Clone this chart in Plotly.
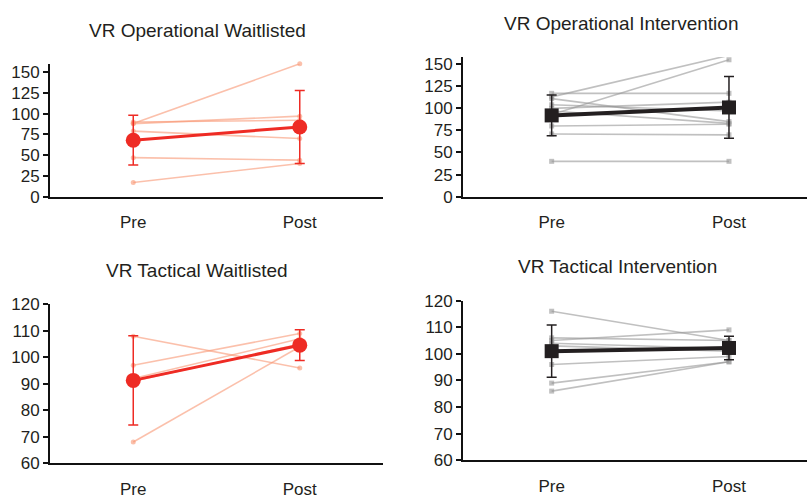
import plotly.graph_objects as go

# ---------- data ----------
categories = ["Pre", "Post"]

# VR Operational Waitlisted
op_wait_pre = [88, 88, 90, 79, 47, 17]
op_wait_post = [160, 97, 92, 70, 44, 40]
op_wait_mean = [68, 84]
op_wait_sd = [30, 44]

# VR Operational Intervention
op_int_pre = [113, 93, 117, 111, 104, 100, 97, 80, 71, 40]
op_int_post = [160, 155, 117, 85, 97, 107, 83, 82, 70, 40]
op_int_mean = [92, 101]
op_int_sd = [23, 35]

# VR Tactical Waitlisted
tac_wait_pre = [108, 97, 92, 91, 68]
tac_wait_post = [96, 109, 107, 105, 104]
tac_wait_mean = [91.3, 104.6]
tac_wait_sd = [16.9, 5.8]

# VR Tactical Intervention
tac_int_pre = [116, 106, 105, 104, 103, 96, 89, 86]
tac_int_post = [105, 105, 109, 102, 101, 99, 97, 97]
tac_int_mean = [101, 102.2]
tac_int_sd = [9.8, 4.4]

titles = ["VR Operational Waitlisted", "VR Operational Intervention",
          "VR Tactical Waitlisted", "VR Tactical Intervention"]

# ---------- style ----------
RED = "#EE2B24"
SALMON = "rgba(248,150,115,0.6)"
BLACK = "#231F20"
GRAY = "rgba(150,150,150,0.6)"
FONT = "Liberation Sans, Arial, Helvetica, sans-serif"

W, H = 807, 504

panels = [
    dict(pre=op_wait_pre, post=op_wait_post, mean=op_wait_mean, sd=op_wait_sd,
         ind=SALMON, main=RED, sym="circle", yr=[0, 160], dtick=25,
         xdom=[50, 383], ydom=[57, 195], xr=[-0.5, 1.5]),
    dict(pre=op_int_pre, post=op_int_post, mean=op_int_mean, sd=op_int_sd,
         ind=GRAY, main=BLACK, sym="square", yr=[0, 158], dtick=25,
         xdom=[463, 807], ydom=[50, 195], xr=[-0.5, 1.44]),
    dict(pre=tac_wait_pre, post=tac_wait_post, mean=tac_wait_mean, sd=tac_wait_sd,
         ind=SALMON, main=RED, sym="circle", yr=[60, 120], dtick=10,
         xdom=[50, 383], ydom=[307, 472], xr=[-0.5, 1.5]),
    dict(pre=tac_int_pre, post=tac_int_post, mean=tac_int_mean, sd=tac_int_sd,
         ind=GRAY, main=BLACK, sym="square", yr=[60, 120], dtick=10,
         xdom=[463, 807], ydom=[303, 469], xr=[-0.5, 1.44]),
]
title_pos = [(197, 22), (621, 15), (197, 272), (617, 268)]


def px_x(v):
    return min(max(v / W, 0), 1)


def px_y(v):
    return min(max(1 - v / H, 0), 1)


fig = go.Figure()
layout = {}
annotations = []
for i, p in enumerate(panels):
    n = i + 1
    xa = "x" if n == 1 else f"x{n}"
    ya = "y" if n == 1 else f"y{n}"
    xpos = [0, 1]
    for a, b in zip(p["pre"], p["post"]):
        fig.add_trace(go.Scatter(
            x=xpos, y=[a, b], mode="lines+markers", xaxis=xa, yaxis=ya,
            line=dict(color=p["ind"], width=1.6),
            marker=dict(color=p["ind"], size=5, symbol=p["sym"]),
            showlegend=False, hoverinfo="skip", cliponaxis=False))
    fig.add_trace(go.Scatter(
        x=xpos, y=p["mean"], mode="lines+markers", xaxis=xa, yaxis=ya,
        line=dict(color=p["main"], width=3 if p["sym"] == "circle" else 4),
        marker=dict(color=p["main"], size=15 if p["sym"] == "circle" else 14,
                    symbol=p["sym"]),
        error_y=dict(type="data", array=p["sd"], color=p["main"],
                     thickness=1.5, width=5),
        showlegend=False, cliponaxis=False))
    xd = [px_x(p["xdom"][0]), px_x(p["xdom"][1])]
    yd = [px_y(p["ydom"][1]), px_y(p["ydom"][0])]
    key = "" if n == 1 else str(n)
    layout["xaxis" + key] = dict(
        domain=xd, range=p["xr"], anchor=ya, tickvals=[0, 1],
        ticktext=categories, showgrid=False, zeroline=False,
        showline=True, linecolor="#111111", linewidth=2,
        ticks="outside", ticklen=9, tickcolor="rgba(0,0,0,0)",
        tickfont=dict(size=17, color="#231F20", family=FONT))
    ticks = list(range(p["yr"][0], p["yr"][1] + 1, p["dtick"]))
    ticks = [t for t in ticks if t <= p["yr"][1]]
    layout["yaxis" + key] = dict(
        domain=yd, range=p["yr"], anchor=xa, tickvals=ticks,
        showgrid=False, zeroline=False, showline=True,
        linecolor="#111111", linewidth=2, ticks="outside", ticklen=5,
        tickwidth=1.5, tickcolor="#111111",
        tickfont=dict(size=17, color="#231F20", family=FONT))
    tx, ty = title_pos[i]
    annotations.append(dict(
        text=titles[i], x=px_x(tx), y=px_y(ty), xref="paper", yref="paper",
        showarrow=False, xanchor="center", yanchor="middle",
        font=dict(size=19, color="#231F20", family=FONT)))

fig.update_layout(
    width=W, height=H, margin=dict(l=0, r=0, t=0, b=0),
    paper_bgcolor="white", plot_bgcolor="white",
    annotations=annotations, **layout)

fig.write_html(
    "out.html",
    config={"displayModeBar": False},
    post_script="document.body.style.margin='0';document.body.style.overflow='hidden';")
